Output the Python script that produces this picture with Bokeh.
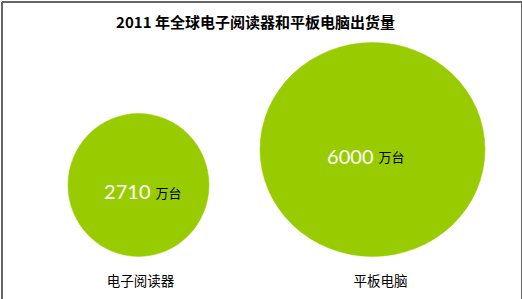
from bokeh.plotting import figure
from bokeh.models import Range1d, ColumnDataSource
from bokeh.core.properties import value
from bokeh.embed import file_html
from bokeh.resources import INLINE

# ---- data ----
title_text = "2011 年全球电子阅读器和平板电脑出货量"
categories = ["电子阅读器", "平板电脑"]
values = [2710, 6000]
unit = "万台"

# ---- layout (pixels) ----
W, H = 522, 299
left_margin = 67.5
gap = 51
baseline = 256          # circles are bottom-aligned
ell_w = [141, 225]
ell_h = [143, 214]
num_dx = [12, 1]
label_x_dx = [2, 8]
label_y = 279
green = "#99cc00"

cx = []
x = left_margin
for i, w in enumerate(ell_w):
    if i > 0:
        x += gap
    cx.append(x + w / 2)
    x += w
cy = [baseline - h / 2 for h in ell_h]

src = ColumnDataSource(dict(
    cx=cx, cy=cy, w=ell_w, h=ell_h,
    num=[str(v) for v in values],
    num_x=[c + d for c, d in zip(cx, num_dx)],
    unit_x=[c + d + 5 for c, d in zip(cx, num_dx)],
    num_y=[c + 7 for c in cy],
    unit=[unit] * len(values),
    cat=categories,
    cat_x=[c + d for c, d in zip(cx, label_x_dx)],
    cat_y=[label_y] * len(values),
))

p = figure(width=W, height=H, x_range=Range1d(0, W), y_range=Range1d(H, 0),
           output_backend="svg", toolbar_location=None, min_border=0)
p.axis.visible = False
p.grid.visible = False
p.outline_line_color = None
p.background_fill_color = "white"
p.border_fill_color = "white"

# frame border (top, left, right)
p.segment(x0=[1.5, 1.5, 521.5], y0=[1.5, 1.5, 1.5], x1=[521.5, 1.5, 521.5], y1=[1.5, 300, 300],
          line_color="#666666", line_width=2)

p.ellipse(x="cx", y="cy", width="w", height="h", source=src,
          fill_color=green, line_color=green, line_width=0.5)

p.text(x="num_x", y="num_y", text="num", source=src, text_color="white",
       text_font=value("Lato"), text_font_size="20px",
       text_align="right", text_baseline="alphabetic")
p.text(x="unit_x", y="num_y", text="unit", source=src, text_color="black",
       text_font=value("Noto Sans CJK SC"), text_font_size="13px",
       text_align="left", text_baseline="alphabetic")
p.text(x="cat_x", y="cat_y", text="cat", source=src, text_color="black",
       text_font=value("Noto Sans CJK SC"), text_font_size="13.5px",
       text_align="center", text_baseline="middle")

p.text(x=[255], y=[20.5], text=[title_text], text_color="black",
       text_font=value("Noto Sans CJK SC"), text_font_size="15px", text_font_style="bold",
       text_align="center", text_baseline="middle")

open("out.html", "w").write(file_html(p, INLINE))
